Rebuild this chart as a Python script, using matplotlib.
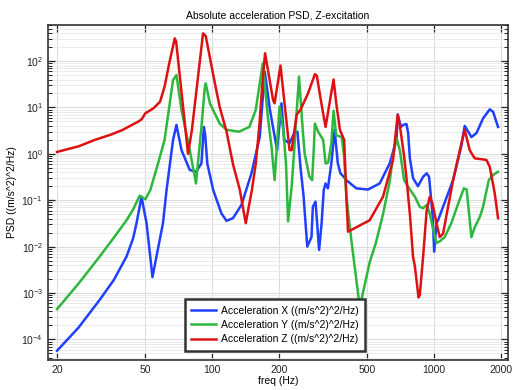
import matplotlib
matplotlib.use("Agg")
import matplotlib.pyplot as plt
from matplotlib.ticker import LogLocator, NullLocator, FixedLocator, FixedFormatter

plt.rcParams['font.family'] = ['Liberation Sans', 'DejaVu Sans']
plt.rcParams['mathtext.default'] = 'regular'

# ---- data ----
freq_x = [20, 25, 31.1, 36, 41.1, 44, 45.6, 48, 50.6, 53.8, 58, 60, 62.3, 66.6, 69, 72.7, 79.2,
          84.5, 89.4, 91.7, 93, 95, 101, 110, 116, 124, 135.4, 150.2, 163.7, 172.5, 182, 196, 205,
          211, 223, 234, 242, 250, 258, 268, 280, 284, 292, 303, 311, 318, 324, 332, 344, 356, 362,
          368, 378, 391, 402, 446, 503, 568, 630, 676, 685, 708, 725, 750, 763, 777, 803, 845, 891,
          925, 948, 982, 1000, 1024, 1041, 1096, 1216, 1326, 1372, 1471, 1550, 1660, 1779, 1841,
          1939]
psd_x = [5.7e-5, 1.8e-4, 7.1e-4, 1.9e-3, 6.1e-3, 0.015, 0.032, 0.119, 0.032, 0.0022, 0.014,
         0.032, 0.17, 2.0, 4.2, 1.2, 0.45, 0.41, 0.62, 3.8, 2.5, 0.62, 0.166, 0.052, 0.036, 0.041,
         0.079, 0.38, 2.3, 59, 8.8, 1.2, 12.3, 2.0, 1.7, 2.8, 3.0, 0.5, 0.12, 0.01, 0.016, 0.072,
         0.093, 0.0085, 0.032, 0.166, 0.23, 0.18, 0.62, 3.3, 1.4, 0.62, 0.38, 0.32, 0.27, 0.18,
         0.17, 0.23, 0.62, 2.0, 7.1, 3.8, 4.2, 4.4, 2.8, 0.8, 0.3, 0.2, 0.32, 0.38, 0.32, 0.052,
         0.0078, 0.032, 0.037, 0.072, 0.27, 1.5, 4.0, 2.3, 2.8, 5.8, 9.1, 8.1, 3.8]

freq_y = [20, 25, 31.1, 36, 41.1, 44, 47.1, 50, 52.6, 57, 61, 66.6, 69, 72.7, 79.2, 84.5, 89.4,
          92.5, 93.5, 97.6, 108, 116, 132, 147, 157, 169, 178, 185, 191, 201, 209, 215, 219.6, 228,
          234, 240, 246, 256, 261, 274, 282, 287, 290, 300, 316, 324, 333, 344, 352, 362, 383, 393,
          402, 424, 446, 462, 495, 512, 546, 588, 630, 652, 676, 700, 732, 777, 818, 861, 891, 925,
          955, 990, 1024, 1059, 1115, 1194, 1283, 1360, 1400, 1435, 1471, 1522, 1606, 1660, 1761,
          1825, 1939]
psd_y = [4.5e-4, 1.6e-3, 6.1e-3, 0.0155, 0.037, 0.063, 0.125, 0.105, 0.166, 0.62, 2.0, 39, 50,
         8.8, 1.2, 0.23, 3.8, 26, 33, 12.3, 4.5, 3.3, 3.0, 3.8, 8.8, 89, 6.3, 1.4, 0.27, 10.4, 3.3,
         0.6, 0.035, 0.2, 1.2, 8, 46, 3.0, 1.0, 0.32, 0.27, 1.4, 4.5, 3.0, 2.0, 0.62, 0.65, 1.7, 8.5,
         2.5, 2.3, 0.87, 0.12, 0.013, 0.0019, 5e-4, 0.0022, 0.0046, 0.012, 0.05, 0.25, 0.87, 2.2,
         1.2, 0.27, 0.17, 0.12, 0.072, 0.067, 0.079, 0.052, 0.023, 0.012, 0.013, 0.016, 0.032,
         0.085, 0.18, 0.17, 0.052, 0.016, 0.026, 0.044, 0.072, 0.27, 0.34, 0.41]

freq_z = [20, 25, 29.6, 35, 39.6, 46.2, 48, 50, 54.4, 58.2, 61, 64, 67.8, 68.8, 77.8, 81, 90.9,
          93.5, 102, 108, 116, 124, 133, 141.6, 151, 157, 163, 168, 173, 188, 191, 203, 223, 228,
          240, 250, 270, 290, 296, 305, 314, 324, 352, 362, 376, 393, 402, 409, 424, 512, 588, 652,
          676, 685, 700, 708, 732, 750, 777, 803, 818, 850, 861, 891, 925, 955, 982, 1024, 1059,
          1096, 1216, 1326, 1372, 1445, 1522, 1718, 1779, 1874, 1939]
psd_z = [1.1, 1.45, 2.0, 2.6, 3.3, 4.9, 5.5, 7.5, 9.6, 13.3, 28, 89, 308, 260, 1.0, 3.3, 395, 345,
         40, 10.3, 3.0, 0.6, 0.17, 0.032, 0.17, 0.6, 4, 30, 147, 14.4, 12.3, 80, 1.2, 1.2, 7, 9, 20,
         52, 48, 20, 8.8, 3.8, 40, 12.3, 3.3, 2.0, 0.12, 0.021, 0.023, 0.037, 0.119, 0.73, 4.0, 6.9,
         4.0, 2.8, 0.87, 0.3, 0.05, 0.006, 0.0038, 0.0008, 0.0009, 0.006, 0.061, 0.119, 0.085,
         0.032, 0.016, 0.019, 0.27, 1.7, 3.3, 1.2, 0.8, 0.74, 0.53, 0.14, 0.041]

labels = ["Acceleration X ((m/s^2)^2/Hz)", "Acceleration Y ((m/s^2)^2/Hz)",
          "Acceleration Z ((m/s^2)^2/Hz)"]
colors = ["#1f40ff", "#2db83d", "#dd1111"]
xticks = [20, 50, 100, 200, 500, 1000, 2000]

fig = plt.figure(figsize=(5.16, 3.90), dpi=100)
ax = fig.add_axes([0.093, 0.077, 0.8915, 0.859])

for f, p, lab, c in zip([freq_x, freq_y, freq_z], [psd_x, psd_y, psd_z], labels, colors):
    ax.plot(f, p, color=c, lw=1.8, label=lab)

ax.set_xscale("log")
ax.set_yscale("log")
ax.set_xlim(18.2, 2150)
ax.set_ylim(3.6e-5, 600)

ax.xaxis.set_major_locator(FixedLocator(xticks))
ax.xaxis.set_major_formatter(FixedFormatter([str(t) for t in xticks]))
ax.xaxis.set_minor_locator(NullLocator())
ax.yaxis.set_major_locator(LogLocator(base=10, numticks=20))
ax.yaxis.set_minor_locator(LogLocator(base=10, subs=range(2, 10), numticks=50))

ax.grid(True, which="major", color="#dcdcdc", lw=0.8)
ax.grid(True, which="minor", axis="y", color="#e8e8e8", lw=0.6)
ax.set_axisbelow(True)

ax.tick_params(which="both", direction="in", top=True, right=True, labelsize=7.5, colors="#222222")
ax.tick_params(which="major", length=5, width=0.9)
ax.tick_params(which="minor", length=3, width=0.7)
for s in ax.spines.values():
    s.set_linewidth(1.2)
    s.set_color("#333333")

ax.set_title("Absolute acceleration PSD, Z-excitation", fontsize=7.5, pad=5)
ax.set_xlabel("freq (Hz)", fontsize=7.5, labelpad=0.5)
ax.set_ylabel("PSD ((m/s^2)^2/Hz)", fontsize=7.5, labelpad=3)

leg = ax.legend(loc="lower left", bbox_to_anchor=(0.297, 0.028), fontsize=7.5, frameon=True,
                fancybox=False, framealpha=1, edgecolor="#333333", handlelength=2.4,
                handletextpad=0.5, borderpad=0.6, labelspacing=0.42, borderaxespad=0)
leg.get_frame().set_linewidth(1.8)

fig.savefig("out.png", dpi=100)
